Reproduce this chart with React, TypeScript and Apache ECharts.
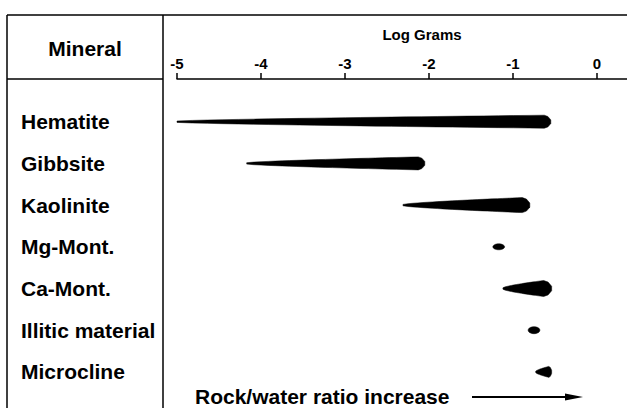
import React, { useEffect, useRef } from 'react';
import * as echarts from 'echarts';

// ---- data ----
const minerals = ['Hematite', 'Gibbsite', 'Kaolinite', 'Mg-Mont.', 'Ca-Mont.', 'Illitic material', 'Microcline'];
const logStart = [-5.0, -4.17, -2.31, -1.24, -1.12, -0.82, -0.73];
const logEnd = [-0.55, -2.05, -0.8, -1.1, -0.54, -0.68, -0.54];
const markShape = ['wedge', 'wedge', 'wedge', 'dot', 'wedge', 'dot', 'wedge'];
const xTickValues = [-5, -4, -3, -2, -1, 0];
const axisTitle = 'Log Grams';
const columnTitle = 'Mineral';
const arrowLabel = 'Rock/water ratio increase';

// ---- visual sizes (style, not data) ----
const markWidthPx = [13, 13, 15, 6, 16, 7, 11];

const FONT = '"Liberation Sans", Arial, Helvetica, sans-serif';

export default function App() {
  const ref = useRef<HTMLDivElement>(null);

  useEffect(() => {
    const chart = echarts.init(ref.current!, null, { renderer: 'svg' });

    const seriesData = minerals.map((_, i) => [
      i,
      logStart[i],
      logEnd[i],
      markWidthPx[i],
      markShape[i] === 'dot' ? 1 : 0,
    ]);

    const renderItem = (params: any, api: any) => {
      const row = api.value(0);
      const s = api.value(1);
      const e = api.value(2);
      const w = api.value(3);
      const kind = api.value(4);
      const p0 = api.coord([s, row]);
      const p1 = api.coord([e, row]);
      const x0 = p0[0];
      const x1 = p1[0];
      const y = p0[1];
      const pts: number[][] = [];
      if (kind === 1) {
        const cx = (x0 + x1) / 2;
        const rx = (x1 - x0) / 2;
        const ry = w / 2;
        for (let k = 0; k < 32; k++) {
          const a = (k / 32) * Math.PI * 2;
          pts.push([cx + rx * Math.cos(a), y + ry * Math.sin(a)]);
        }
      } else {
        const tail = 1.4;
        const tip = Math.min(w * 0.5, (x1 - x0) * 0.18);
        const xb = x1 - tip;
        const N = 24;
        const top: number[][] = [];
        const bot: number[][] = [];
        for (let k = 0; k <= N; k++) {
          const t = k / N;
          const half = (tail + (w - tail) * Math.pow(t, 0.72)) / 2;
          const x = x0 + t * (xb - x0);
          top.push([x, y - half]);
          bot.push([x, y + half]);
        }
        pts.push(...top);
        pts.push([xb + tip * 0.55, y - w * 0.4]);
        pts.push([x1, y - w * 0.14]);
        pts.push([x1, y + w * 0.14]);
        pts.push([xb + tip * 0.55, y + w * 0.4]);
        pts.push(...bot.reverse());
      }
      return {
        type: 'polygon',
        shape: { points: pts },
        style: { fill: '#000', stroke: '#000', lineWidth: 0.5 },
      };
    };

    const line = (x1: number, y1: number, x2: number, y2: number, lw = 1.5) => ({
      type: 'line',
      shape: { x1, y1, x2, y2 },
      style: { stroke: '#000', lineWidth: lw },
      silent: true,
    });

    const option: any = {
      animation: false,
      backgroundColor: '#fff',
      textStyle: { fontFamily: FONT },
      grid: { left: 177, right: 0, top: 100.85, height: 291.9 },
      xAxis: {
        type: 'value',
        position: 'top',
        offset: 21.85,
        min: -5,
        max: 0.357,
        interval: 1,
        splitLine: { show: false },
        axisLine: { show: true, lineStyle: { color: '#000', width: 1.5 } },
        axisTick: {
          show: true,
          customValues: xTickValues,
          length: 6,
          lineStyle: { color: '#000', width: 1.5 },
        },
        axisLabel: {
          customValues: xTickValues,
          color: '#000',
          fontSize: 15,
          fontWeight: 'bold',
          fontFamily: FONT,
          margin: 8,
        },
        name: axisTitle,
        nameLocation: 'middle',
        nameGap: 37,
        nameTextStyle: {
          color: '#000',
          fontSize: 15,
          fontWeight: 'bold',
          fontFamily: FONT,
          padding: [0, 0, 0, 40],
        },
      },
      yAxis: {
        type: 'category',
        data: minerals,
        inverse: true,
        boundaryGap: true,
        axisLine: { show: false },
        axisTick: { show: false },
        splitLine: { show: false },
        axisLabel: {
          align: 'left',
          margin: 156,
          color: '#000',
          fontSize: 21,
          fontWeight: 'bold',
          fontFamily: FONT,
        },
      },
      series: [
        {
          type: 'custom',
          renderItem,
          encode: { x: [1, 2], y: 0 },
          data: seriesData,
        },
      ],
      graphic: [
        line(7, 15, 627, 15),
        line(7, 15, 7, 408),
        line(163, 15, 163, 408),
        line(7, 79, 163, 79),
        {
          type: 'text',
          x: 85,
          y: 48,
          style: {
            text: columnTitle,
            font: `bold 21px ${FONT}`,
            fill: '#000',
            align: 'center',
            verticalAlign: 'middle',
            textAlign: 'center',
            textVerticalAlign: 'middle',
          },
        },
        {
          type: 'text',
          x: 195,
          y: 396,
          style: {
            text: arrowLabel,
            font: `bold 21px ${FONT}`,
            fill: '#000',
            align: 'left',
            verticalAlign: 'middle',
            textAlign: 'left',
            textVerticalAlign: 'middle',
          },
        },
        line(472, 397, 570, 397, 2),
        {
          type: 'polygon',
          shape: { points: [[565, 393.5], [583, 397], [565, 400.5]] },
          style: { fill: '#000' },
        },
      ],
    };

    chart.setOption(option);
    return () => chart.dispose();
  }, []);

  return (
    <div
      ref={ref}
      style={{ position: 'fixed', left: 0, top: 0, width: 627, height: 408, background: '#fff' }}
    />
  );
}
